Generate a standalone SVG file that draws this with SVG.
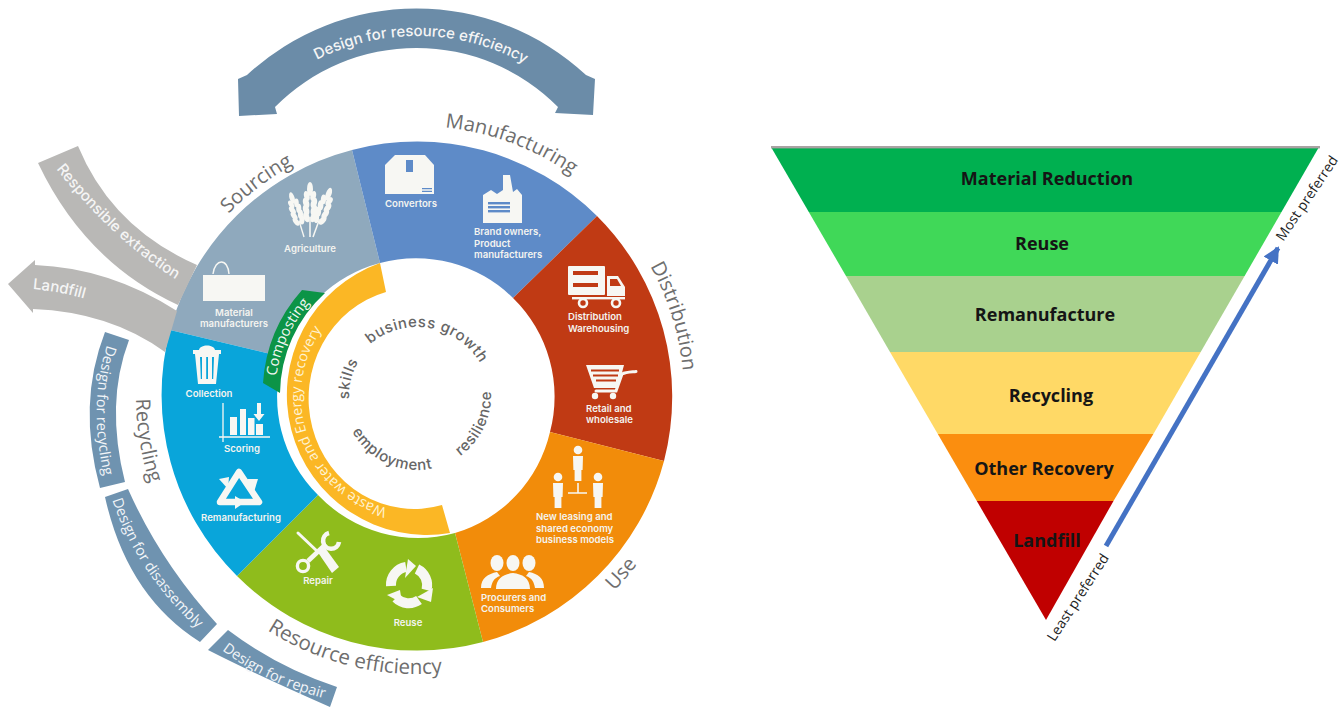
<svg xmlns="http://www.w3.org/2000/svg" xmlns:xlink="http://www.w3.org/1999/xlink" width="1343" height="708" viewBox="0 0 1343 708">
<style>
.stage{font:400 20px "Open Sans",sans-serif;fill:#6e6e6e}
.lab{font:600 9.6px Inter,"Liberation Sans",sans-serif;fill:#f4f4f0}
.mid{text-anchor:middle}
.word{font:500 15px Inter,"Liberation Sans",sans-serif;fill:#666;text-anchor:middle;letter-spacing:.6px}
.band{font:400 14.5px "Open Sans",sans-serif;fill:#f2f5f8}
.arrowtxt{font:500 15px Inter,"Liberation Sans",sans-serif;fill:#f5f5f5}
.tier{font:700 18px "Open Sans",sans-serif;fill:#151515;text-anchor:middle}
.pref{font:400 14px "Open Sans",sans-serif;fill:#222;text-anchor:middle}
.w{fill:#f7f7f3}
.ws{fill:none;stroke:#f7f7f3}
.blueband{fill:#6f93b0}
.grey{fill:#b9b8b6}
</style>
<defs>
<path id="c262" d="M417 658A262 262 0 1 1 417 134A262 262 0 1 1 417 658"/>
<path id="c270" d="M417 666A270 270 0 1 1 417 126A270 270 0 1 1 417 666"/>
<path id="c267" d="M417 663A267 267 0 1 1 417 129A267 267 0 1 1 417 663"/>
<path id="a281" d="M417 115A281 281 0 1 0 417 677A281 281 0 1 0 417 115"/>
<path id="a278" d="M417 118A278 278 0 1 0 417 674A278 278 0 1 0 417 118"/>
<path id="a277" d="M417 119A277 277 0 1 0 417 673A277 277 0 1 0 417 119"/>
<path id="a74" d="M417 322A74 74 0 1 0 417 470A74 74 0 1 0 417 322"/>
<path id="biz" d="M417 473A73 73 0 1 1 417 327A73 73 0 1 1 417 473"/>
<path id="c68" d="M417 464A68 68 0 1 1 417 328A68 68 0 1 1 417 464"/>
<path id="c116" d="M417 512A116 116 0 1 1 417 280A116 116 0 1 1 417 512"/>
<path id="c142" d="M417 538A142 142 0 1 1 417 254A142 142 0 1 1 417 538"/>
<path id="top" d="M417 480A222 222 0 1 1 417 36A222 222 0 1 1 417 480"/>
<path id="resp" d="M53 165Q114 242 180 282"/>
<path id="land" d="M31 289Q58 291 86 299"/>
<path id="drec" d="M107 345Q88 404 104 476"/>
<path id="ddis" d="M113 502Q137 572 196 627"/>
<path id="drep" d="M223 651Q266 683 323 698"/>
<g id="ear">
<path class="ws" stroke-width="1.6" d="M0 0V-20"/>
<g class="w">
<ellipse cx="-3.6" cy="-20" rx="3" ry="5.5" transform="rotate(-18 -3.6 -20)"/><ellipse cx="3.6" cy="-20" rx="3" ry="5.5" transform="rotate(18 3.6 -20)"/>
<ellipse cx="-3.9" cy="-27" rx="3" ry="5.5" transform="rotate(-18 -3.9 -27)"/><ellipse cx="3.9" cy="-27" rx="3" ry="5.5" transform="rotate(18 3.9 -27)"/>
<ellipse cx="-3.9" cy="-34" rx="3" ry="5.5" transform="rotate(-18 -3.9 -34)"/><ellipse cx="3.9" cy="-34" rx="3" ry="5.5" transform="rotate(18 3.9 -34)"/>
<ellipse cx="-3.2" cy="-41" rx="2.8" ry="5.2" transform="rotate(-15 -3.2 -41)"/><ellipse cx="3.2" cy="-41" rx="2.8" ry="5.2" transform="rotate(15 3.2 -41)"/>
<ellipse cx="0" cy="-48" rx="3" ry="7"/>
</g>
</g>
<g id="man" class="w">
<circle cx="0" cy="-14" r="4.3"/>
<path d="M-5 -8H5L4.6 6H3.4V17H-3.4V6H-4.6Z"/>
</g>
<marker id="head" markerWidth="3.4" markerHeight="3.4" refX="2.9" refY="1.65" orient="auto"><path d="M0 0L3.3 1.65L0 3.3Z" fill="#4472c4"/></marker>
</defs>
<rect width="1343" height="708" fill="#fff"/>

<g id="node-sourcing">
<path fill="#8fa9bd" d="M170 330A255 255 0 0 1 352 150L380 263A138 138 0 0 0 283 357Z"/>
<text class="stage"><textPath href="#c262" startOffset="39.7%" text-anchor="middle">Sourcing</textPath></text>
<use href="#ear" transform="translate(304 237) rotate(-17) scale(.85)"/>
<use href="#ear" transform="translate(310 237)"/>
<use href="#ear" transform="translate(313 237) rotate(20) scale(.95)"/>
<text class="lab mid" x="310" y="252">Agriculture</text>
<rect class="w" x="203" y="275" width="62" height="26"/>
<path class="ws" stroke-width="1.4" d="M213 274C215 258 228 258 229 274"/>
<text class="lab mid" x="234" y="316">Material</text>
<text class="lab mid" x="234" y="327">manufacturers</text>
</g>

<g id="node-manufacturing">
<path fill="#5e8bc8" d="M352 150A255 255 0 0 1 597 216L513 298A138 138 0 0 0 380 263Z"/>
<text class="stage"><textPath href="#c270" startOffset="55.7%" text-anchor="middle">Manufacturing</textPath></text>
<path class="w" d="M385 165L395 155H425L434 165V194H385Z"/>
<path fill="#5e8bc8" d="M406 160H413V172H406ZM422 188H432V189.2H422ZM422 190.8H432V192H422Z"/>
<text class="lab" x="385" y="207">Convertors</text>
<path class="w" d="M483 195L491 190L497 194L503 190L503 175H510L513 192L517 189L522 195V223H483Z"/>
<g fill="#5e8bc8"><rect x="488" y="202" width="22" height="2.4"/><rect x="488" y="206" width="22" height="2.4"/><rect x="488" y="210" width="22" height="2.4"/></g>
<text class="lab" x="474" y="235">Brand owners,</text>
<text class="lab" x="474" y="247">Product</text>
<text class="lab" x="474" y="258">manufacturers</text>
</g>

<g id="node-distribution">
<path fill="#c03a14" d="M597 216A255 255 0 0 1 664 461L550 432A138 138 0 0 0 513 298Z"/>
<text class="stage"><textPath href="#c267" startOffset="70.2%" text-anchor="middle">Distribution</textPath></text>
<rect class="w" x="568" y="266" width="37" height="29" rx="1"/>
<path fill="#c03a14" d="M573 271H598V275H573ZM573 283H598V287H573Z"/>
<path class="w" d="M607 276H618L625 287V296H607Z"/>
<path fill="#c03a14" d="M610 279H617L621 286H610Z"/>
<rect class="w" x="572" y="297" width="53" height="2.4"/>
<g class="ws" stroke-width="2.6"><circle cx="583" cy="303" r="4" fill="#c03a14"/><circle cx="616" cy="303" r="4" fill="#c03a14"/></g>
<text class="lab" x="568" y="320">Distribution</text>
<text class="lab" x="568" y="332">Warehousing</text>
<path class="w" d="M586 365H624L618 388H594Z"/>
<path fill="#c03a14" d="M591 369.5H619V371.5H591ZM593 374.5H618V376.5H593ZM596 379.5H616V381.5H596Z"/>
<path class="ws" stroke-width="3" stroke-linecap="round" d="M596 391H616L622 374C626 372 632 372 636 371.500"/>
<circle class="w" cx="595" cy="396" r="3.2"/><circle class="w" cx="613" cy="396" r="3.2"/>
<text class="lab" x="586" y="412">Retail and</text>
<text class="lab" x="586" y="423">wholesale</text>
</g>

<g id="node-use">
<path fill="#f28c0a" d="M664 461A255 255 0 0 1 483 642L455 533A138 138 0 0 0 550 432Z"/>
<text class="stage"><textPath href="#a277" startOffset="63.6%" text-anchor="middle">Use</textPath></text>
<use href="#man" transform="translate(578 464)"/>
<use href="#man" transform="translate(558 491)"/>
<use href="#man" transform="translate(598 491)"/>
<path class="ws" stroke-width="1.6" d="M578 483V493M568 493H587"/>
<text class="lab" x="536" y="520">New leasing and</text>
<text class="lab" x="536" y="531.5">shared economy</text>
<text class="lab" x="536" y="543">business models</text>
<g class="w">
<ellipse cx="497" cy="563" rx="6.5" ry="8"/><ellipse cx="513" cy="563" rx="6.5" ry="8"/><ellipse cx="529" cy="563" rx="6.5" ry="8"/>
<path d="M481 588C481 578 488 574 497 572L500 576C494 578 492 582 491 588ZM535 588C534 582 532 578 526 576L529 572C538 574 544 578 544 588ZM496 589C496 578 504 574 513 573C522 574 530 578 530 589Z"/>
</g>
<text class="lab" x="481" y="601">Procurers and</text>
<text class="lab" x="481" y="612">Consumers</text>
</g>

<g id="node-resource-efficiency">
<path fill="#8fbc1c" d="M483 642A255 255 0 0 1 237 576L318 495A138 138 0 0 0 455 533Z"/>
<text class="stage" style="font-size:20.5px"><textPath href="#a278" startOffset="46.2%" text-anchor="middle">Resource efficiency</textPath></text>
<path class="ws" stroke-width="3" stroke-linecap="round" d="M298 533L318 552"/>
<path class="w" d="M317 551L323 545L339 567L332 573Z"/>
<path class="ws" stroke-width="4.6" d="M308 561L326 544"/>
<circle class="ws" stroke-width="3.4" cx="303" cy="566" r="5.6"/>
<path class="ws" stroke-width="4.6" d="M329 533A8 8 0 1 0 339 542"/>
<text class="lab mid" x="318" y="584">Repair</text>
<g class="ws" stroke-width="10">
<path d="M391 586A18 18 0 0 1 406 567"/>
<path d="M417 569A18 18 0 0 1 426.500 590"/>
<path d="M419 600A18 18 0 0 1 396 598"/>
</g>
<g class="w"><path d="M408 559L416 566L405 578Z"/><path d="M433 588L431 602L417 597Z"/><path d="M387 595L400 590L402 603Z"/></g>
<text class="lab mid" x="408" y="626">Reuse</text>
</g>

<g id="node-recycling">
<path fill="#09a5da" d="M237 576A255 255 0 0 1 170 330L283 357A138 138 0 0 0 318 495Z"/>
<text class="stage"><textPath href="#a281" startOffset="27.6%" text-anchor="middle">Recycling</textPath></text>
<path class="w" d="M193 350H199C200 344 214 344 215 350H221V354H219L216 384H198L195 354H193Z"/>
<path fill="#09a5da" d="M200 357H202V379H200.8ZM206.2 357H208V379H206.2ZM212 357H214L213.2 379H212Z"/>
<text class="lab mid" x="209" y="397">Collection</text>
<path class="ws" stroke-width="1.3" d="M223 403V442M219 437H270"/>
<g class="w"><rect x="230" y="417" width="7" height="18"/><rect x="240" y="409" width="6" height="26"/><rect x="248" y="418" width="6.5" height="17"/><rect x="256" y="424" width="7" height="11"/><path d="M257 403H261V414H264.5L259 421L253.5 414H257Z"/></g>
<text class="lab mid" x="242" y="452">Scoring</text>
<path class="ws" stroke-width="6.5" stroke-linejoin="round" d="M239 472L259 502H220Z"/>
<g class="w"><path d="M219 479L229 477L228 489Z"/><path d="M247 479L258 479L254 492Z"/><path d="M235 496L245 502L235 509Z"/></g>
<text class="lab mid" x="241" y="521">Remanufacturing</text>
</g>

<g id="node-waste-water">
<path fill="#fbb725" d="M380 263A140 140 0 0 0 450 533L442 505A104 109 0 0 1 386 292Z"/>
<text font-family="Open Sans,sans-serif" font-size="14.3" fill="#fff3d2"><textPath href="#c116" startOffset="19.4%" text-anchor="middle">Waste water and Energy recovery</textPath></text>
</g>

<g id="node-composting">
<path fill="#0c9447" d="M302 290A155 155 0 0 0 263 383L280 393A138 138 0 0 1 325 293Z"/>
<text font-family="Open Sans,sans-serif" font-size="14.5" fill="#f2f7f2"><textPath href="#c142" startOffset="31.8%" text-anchor="middle">Composting</textPath></text>
</g>

<g id="node-centre-words">
<text class="word"><textPath href="#biz" startOffset="52.8%">business growth</textPath></text>
<text class="word"><textPath href="#a74" startOffset="68%">resilience</textPath></text>
<text class="word"><textPath href="#a74" startOffset="43.2%">employment</textPath></text>
<text class="word"><textPath href="#c68" startOffset="28.9%">skills</textPath></text>
</g>

<g id="node-design-resource">
<path fill="#6b8ca8" d="M239 116L238 79L247 75A249 249 0 0 1 586 75L595 79L593 115L555 113L558 107A199 199 0 0 0 275 107L277 114Z"/>
<text class="arrowtxt"><textPath href="#top" startOffset="50.3%" text-anchor="middle">Design for resource efficiency</textPath></text>
</g>
<g id="node-responsible-extraction">
<path class="grey" d="M78 146Q112 228 197 265L178 305Q85 262 38 163Z"/>
<text class="arrowtxt"><textPath href="#resp" startOffset="50%" text-anchor="middle">Responsible extraction</textPath></text>
</g>
<g id="node-landfill-arrow">
<path class="grey" d="M8 284L35 260V265Q110 268 177 311L165 352Q110 312 33 309V313Z"/>
<text class="arrowtxt"><textPath href="#land" startOffset="50%" text-anchor="middle">Landfill</textPath></text>
</g>
<g id="node-design-recycling">
<path class="blueband" d="M105 332Q77 404 100 488L125 482Q105 403 129 340Z"/>
<text class="band"><textPath href="#drec" startOffset="50%" text-anchor="middle">Design for recycling</textPath></text>
</g>
<g id="node-design-disassembly">
<path class="blueband" d="M105 497Q127 596 200 642L217 624Q161 563 128 489Z"/>
<text class="band"><textPath href="#ddis" startOffset="50%" text-anchor="middle">Design for disassembly</textPath></text>
</g>
<g id="node-design-repair">
<path class="blueband" d="M228 630Q277 667 337 687L330 707Q257 675 208 650Z"/>
<text class="band"><textPath href="#drep" startOffset="50%" text-anchor="middle">Design for repair</textPath></text>
</g>

<g id="node-material-reduction"><path fill="#00b050" d="M771 147H1319L1281.5 212H808.8Z"/><rect x="771" y="146" width="549" height="2.4" fill="#a9a3a3"/><text class="tier" x="1047" y="185">Material Reduction</text></g>
<g id="node-reuse"><path fill="#40d858" d="M808.8 212H1281.5L1244.6 276H846Z"/><text class="tier" x="1042" y="250">Reuse</text></g>
<g id="node-remanufacture"><path fill="#a9d18e" d="M846 276H1244.6L1200.7 352H890Z"/><text class="tier" x="1045" y="321">Remanufacture</text></g>
<g id="node-recycling-tier"><path fill="#ffd966" d="M890 352H1200.7L1153.4 434H937.8Z"/><text class="tier" x="1051" y="402">Recycling</text></g>
<g id="node-other-recovery"><path fill="#fb8e0f" d="M937.8 434H1153.4L1113.5 501H976.8Z"/><text class="tier" x="1044" y="475">Other Recovery</text></g>
<g id="node-landfill-tier"><path fill="#c00000" d="M976.8 501H1113.5L1046 620Z"/><text class="tier" x="1047" y="547">Landfill</text></g>

<g id="connectors">
<path d="M1106 546L1278 248" fill="none" stroke="#4472c4" stroke-width="5" marker-end="url(#head)"/>
</g>
<text class="pref" transform="translate(1311 201) rotate(-56)">Most preferred</text>
<text class="pref" transform="translate(1082 600) rotate(-57)">Least preferred</text>
</svg>
